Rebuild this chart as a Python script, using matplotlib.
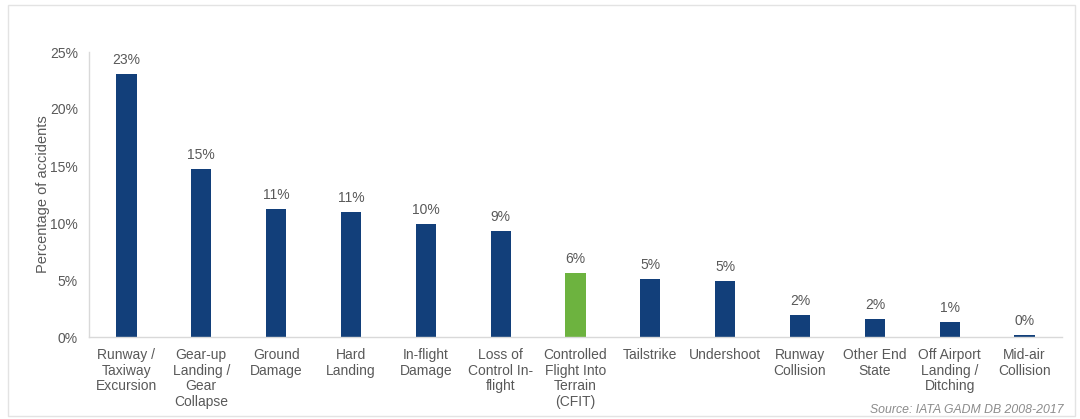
import matplotlib
matplotlib.use("Agg")
import matplotlib.pyplot as plt
from matplotlib.patches import Rectangle

categories = [
    "Runway /\nTaxiway\nExcursion",
    "Gear-up\nLanding /\nGear\nCollapse",
    "Ground\nDamage",
    "Hard\nLanding",
    "In-flight\nDamage",
    "Loss of\nControl In-\nflight",
    "Controlled\nFlight Into\nTerrain\n(CFIT)",
    "Tailstrike",
    "Undershoot",
    "Runway\nCollision",
    "Other End\nState",
    "Off Airport\nLanding /\nDitching",
    "Mid-air\nCollision",
]
shares = [23.1, 14.7, 11.2, 11.0, 9.9, 9.3, 5.6, 5.1, 4.9, 1.9, 1.6, 1.3, 0.15]
highlight = "Controlled\nFlight Into\nTerrain\n(CFIT)"
yticks = [0, 5, 10, 15, 20, 25]

navy = "#123f7a"
green = "#6db33f"
text_grey = "#595959"
axis_grey = "#d9d9d9"

plt.rcParams["font.family"] = ["Liberation Sans", "DejaVu Sans"]

fig = plt.figure(figsize=(10.8, 4.19), dpi=100)
fig.patches.append(Rectangle((8 / 1080, 1 - 416 / 419), 1067 / 1080, 411 / 419,
                             transform=fig.transFigure, fill=False,
                             edgecolor="#e3e3e3", linewidth=1.0))

ax = fig.add_axes([89 / 1080, 1 - 337 / 419, (1062 - 89) / 1080, 285 / 419])
x = list(range(len(categories)))
colors = [green if c == highlight else navy for c in categories]
bars = ax.bar(x, shares, width=0.27, color=colors, zorder=2)

for xi, v in zip(x, shares):
    ax.annotate(f"{v:.0f}%", (xi, v), xytext=(0, 5), textcoords="offset points",
                ha="center", va="bottom", fontsize=10, color=text_grey)

ax.set_xlim(-0.5, len(categories) - 0.5)
ax.set_ylim(0, 25)
ax.set_yticks(yticks)
ax.set_yticklabels([f"{t}%" for t in yticks])
ax.set_xticks(x)
ax.set_xticklabels(categories, linespacing=1.15)
ax.tick_params(axis="x", length=0, pad=8, labelsize=10, labelcolor=text_grey)
ax.tick_params(axis="y", length=0, pad=8, labelsize=10, labelcolor=text_grey)
ax.set_ylabel("Percentage of accidents", fontsize=10.5, color=text_grey, labelpad=0)

for side in ("top", "right"):
    ax.spines[side].set_visible(False)
for side in ("left", "bottom"):
    ax.spines[side].set_color(axis_grey)
    ax.spines[side].set_linewidth(1.0)

fig.text(1064 / 1080, 1 - 410 / 419, "Source: IATA GADM DB 2008-2017",
         ha="right", va="center", fontsize=8.8, style="italic", color="#8c8c8c")

fig.savefig("out.png", dpi=100)
